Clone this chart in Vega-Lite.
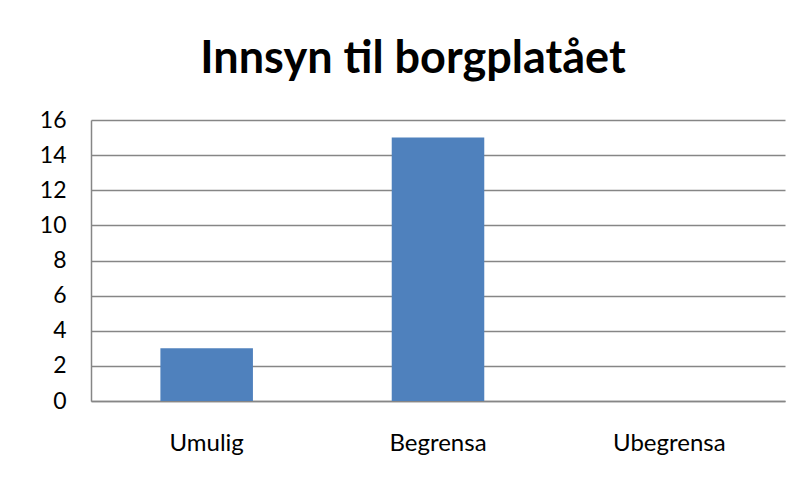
{
  "$schema": "https://vega.github.io/schema/vega-lite/v6.json",
  "autosize": {"type": "none"},
  "width": 694,
  "height": 281,
  "padding": {"left": 91, "top": 120, "right": 17, "bottom": 83},
  "background": "white",
  "title": {
    "text": "Innsyn til borgplatået",
    "font": "Lato",
    "fontSize": 45,
    "fontWeight": "bold",
    "color": "#000000",
    "anchor": "middle",
    "dx": -25,
    "offset": 27
  },
  "data": {
    "values": [
      {"kategori": "Umulig", "antall": 3},
      {"kategori": "Begrensa", "antall": 15},
      {"kategori": "Ubegrensa", "antall": 0}
    ]
  },
  "mark": {"type": "bar", "color": "#4F81BD"},
  "encoding": {
    "x": {
      "field": "kategori",
      "type": "nominal",
      "sort": null,
      "scale": {"paddingInner": 0.6, "paddingOuter": 0.3},
      "axis": {
        "title": null,
        "labelAngle": 0,
        "labelFont": "Lato",
        "labelFontSize": 24,
        "labelColor": "#000000",
        "labelPadding": 30,
        "ticks": false,
        "domainColor": "#868686",
        "domainWidth": 1.5
      }
    },
    "y": {
      "field": "antall",
      "type": "quantitative",
      "scale": {"domain": [0, 16]},
      "axis": {
        "title": null,
        "values": [0, 2, 4, 6, 8, 10, 12, 14, 16],
        "labelFont": "Lato",
        "labelFontSize": 23,
        "labelColor": "#000000",
        "labelPadding": 25,
        "ticks": false,
        "domainColor": "#868686",
        "domainWidth": 1.5,
        "grid": true,
        "gridColor": "#868686",
        "gridWidth": 1.5
      }
    }
  },
  "config": {"view": {"stroke": null}}
}
